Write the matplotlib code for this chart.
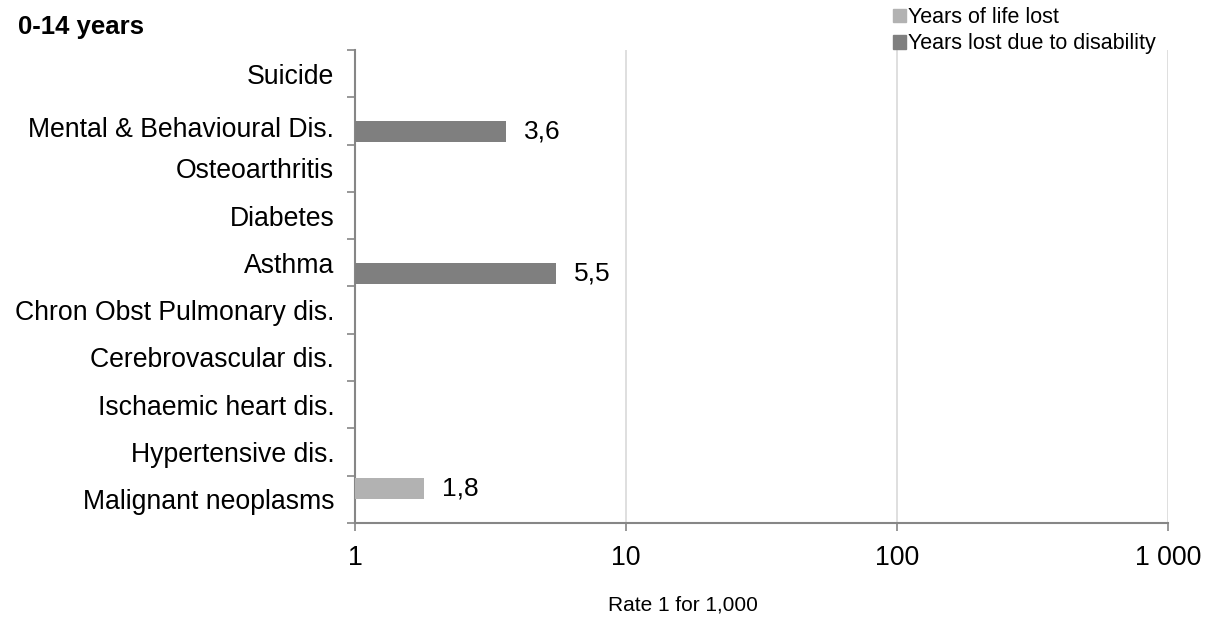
import numpy as np
import matplotlib.pyplot as plt
import matplotlib.transforms as mtransforms
from matplotlib.patches import Patch

plt.rcParams['font.family'] = ['Liberation Sans', 'DejaVu Sans']

categories = ['Malignant neoplasms', 'Hypertensive dis.', 'Ischaemic heart dis.',
              'Cerebrovascular dis.', 'Chron Obst Pulmonary dis.', 'Asthma',
              'Diabetes', 'Osteoarthritis', 'Mental & Behavioural Dis.', 'Suicide']
nan = np.nan
yll = [1.8, nan, nan, nan, nan, nan, nan, nan, nan, nan]   # Years of life lost
yld = [nan, nan, nan, nan, nan, 5.5, nan, nan, 3.6, nan]   # Years lost due to disability
xticks = [1, 10, 100, 1000]
xticklabels = ['1', '10', '100', '1 000']

c_yll = '#b2b2b2'
c_yld = '#7f7f7f'
axis_col = '#868686'

fig = plt.figure(figsize=(12.09, 6.19), dpi=100)
ax = fig.add_axes([355/1209, 1 - 523/619, (1168 - 355)/1209, (523 - 50)/619])

y = np.arange(len(categories))
h = 0.445
off = 0.222
base = 1
ax.barh(y + off, np.array(yll) - base, left=base, height=h, color=c_yll, zorder=3)
ax.barh(y - off, np.array(yld) - base, left=base, height=h, color=c_yld, zorder=3)

def lab(v):
    return f'{v:.1f}'.replace('.', ',')

for i in range(len(categories)):
    if not np.isnan(yll[i]):
        ax.annotate(lab(yll[i]), (yll[i], y[i] + off), xytext=(13, 0), textcoords='offset points',
                    va='center', ha='left', fontsize=19)
    if not np.isnan(yld[i]):
        ax.annotate(lab(yld[i]), (yld[i], y[i] - off), xytext=(13, 0), textcoords='offset points',
                    va='center', ha='left', fontsize=19)

ax.set_xscale('log')
ax.set_xlim(1, 1000)
ax.set_ylim(-0.5, len(categories) - 0.5)
ax.set_xticks(xticks)
ax.set_xticklabels(xticklabels, fontsize=19.2)
ax.xaxis.set_minor_locator(plt.NullLocator())
ax.tick_params(axis='x', length=6, width=1.2, color=axis_col, pad=10)

ax.set_yticks(y)
ax.set_yticklabels(categories, fontsize=19.2)
ax.set_yticks(np.arange(-0.5, len(categories)), minor=True)
ax.tick_params(axis='y', which='major', length=0, pad=15)
ax.tick_params(axis='y', which='minor', length=6, width=1.2, color=axis_col)

# the long label sits a little lower in the original
tl = ax.get_yticklabels()[categories.index('Mental & Behavioural Dis.')]
tl.set_transform(tl.get_transform() + mtransforms.ScaledTranslation(0, -6/100, fig.dpi_scale_trans))

ax.grid(axis='x', color='#d9d9d9', linewidth=1.2, zorder=0)
for s in ['top', 'right']:
    ax.spines[s].set_visible(False)
for s in ['left', 'bottom']:
    ax.spines[s].set_color(axis_col)
    ax.spines[s].set_linewidth(1.5)

fig.text(18/1209, 1 - 27/619, '0-14 years', fontweight='bold', fontsize=18.5, va='center', ha='left')
fig.text(683/1209, 1 - 605/619, 'Rate 1 for 1,000', fontsize=15, va='center', ha='center')

handles = [Patch(color=c_yll), Patch(color=c_yld)]
fig.legend(handles, ['Years of life lost', 'Years lost due to disability'],
           loc='upper left', bbox_to_anchor=(893/1209, 1 - 7/619), frameon=False,
           fontsize=15.5, handlelength=0.6, handleheight=0.6, handletextpad=0.08,
           labelspacing=0.25, borderpad=0.0, borderaxespad=0)

fig.savefig('out.png', dpi=100)
